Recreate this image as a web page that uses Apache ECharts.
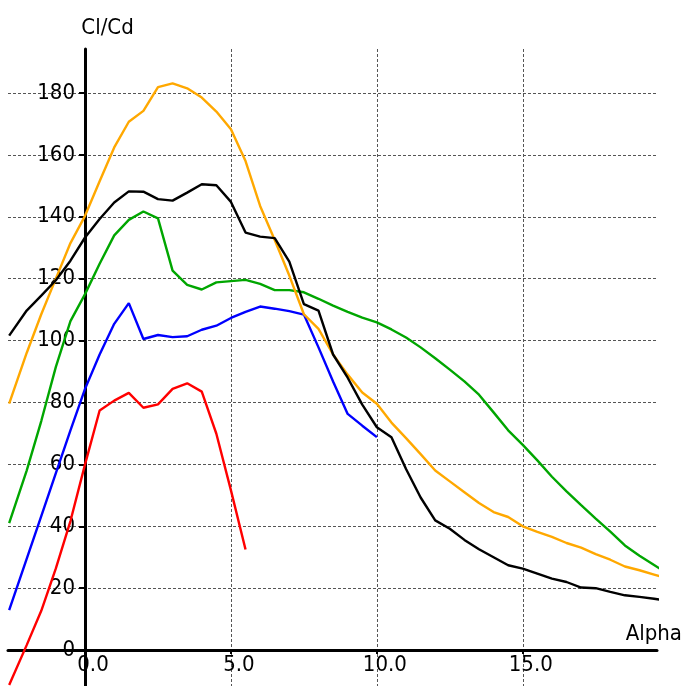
<!DOCTYPE html>
<html>
<head>
<meta charset="utf-8">
<script src="https://cdn.jsdelivr.net/npm/echarts@6/dist/echarts.min.js"></script>
<style>html,body{margin:0;padding:0;background:#fff}#c{width:684px;height:686px}</style>
</head>
<body>
<div id="c"></div>
<script>
const alpha = [-2.6, -2.0, -1.5, -1.0, -0.5, 0.0, 0.5, 1.0, 1.5, 2.0, 2.5, 3.0, 3.5, 4.0, 4.5, 5.0, 5.5, 6.0, 6.5, 7.0, 7.5, 8.0, 8.5, 9.0, 9.5, 10.0, 10.5, 11.0, 11.5, 12.0, 12.5, 13.0, 13.5, 14.0, 14.5, 15.0, 15.5, 16.0, 16.5, 17.0, 17.5, 18.0, 18.5, 19.0, 19.5, 20.0];

const blackVals = [101.6, 109.7, 114.5, 119.5, 125.8, 133.3, 139.3, 144.6, 148.2, 148.1, 145.7, 145.2, 147.8, 150.5, 150.2, 144.8, 134.9, 133.6, 133.1, 125.5, 111.8, 109.7, 95.5, 88.0, 79.3, 72.0, 68.8, 58.5, 49.3, 41.9, 39.2, 35.6, 32.6, 30.0, 27.4, 26.3, 24.7, 23.1, 22.0, 20.2, 20.0, 18.8, 17.7, 17.2, 16.6, 15.8];
const orangeVals = [79.6, 96.0, 108.5, 120.0, 131.5, 140.3, 151.5, 162.4, 170.7, 174.2, 181.9, 183.1, 181.5, 178.5, 174.0, 168.3, 158.0, 143.5, 132.5, 121.0, 108.5, 103.8, 95.5, 89.0, 83.2, 79.6, 73.5, 68.5, 63.3, 58.0, 54.5, 51.0, 47.5, 44.6, 43.0, 40.0, 38.2, 36.6, 34.6, 33.1, 31.0, 29.2, 27.0, 25.8, 24.4, 23.0];
const greenVals = [41.0, 58.0, 74.0, 91.5, 106.3, 115.0, 124.8, 134.0, 139.0, 141.7, 139.5, 122.6, 118.0, 116.5, 118.8, 119.2, 119.6, 118.3, 116.3, 116.3, 115.6, 113.5, 111.3, 109.3, 107.4, 105.9, 103.6, 101.0, 97.8, 94.3, 90.6, 86.8, 82.5, 76.8, 71.0, 66.3, 61.3, 56.0, 51.3, 46.8, 42.5, 38.3, 33.8, 30.5, 27.5, 24.5];
const blueVals = [12.9, 29.5, 43.3, 57.2, 71.0, 84.4, 95.5, 105.4, 112.1, 100.5, 101.8, 101.1, 101.4, 103.5, 104.8, 107.3, 109.3, 111.0, 110.3, 109.5, 108.4, 97.8, 86.8, 76.3, 72.5, 68.8];
const redVals = [-11.3, 1.6, 12.7, 26.4, 41.7, 60.0, 77.4, 80.6, 83.1, 78.3, 79.4, 84.4, 86.2, 83.5, 69.9, 51.6, 32.5];

const xTicks = [0, 5, 10, 15];
const yTicks = [0, 20, 40, 60, 80, 100, 120, 140, 160, 180];

const FONT = "'DejaVu Sans Condensed', 'DejaVu Sans', sans-serif";
const X_MIN = -2.64, X_MAX = 19.6, Y_MIN = -11.6, Y_MAX = 194.2;

function pairs(vals) { return vals.map((v, i) => [alpha[i], v]); }

const seriesDefs = [
  { name: 'red', color: '#ff0000', vals: redVals },
  { name: 'blue', color: '#0000ff', vals: blueVals },
  { name: 'green', color: '#00a600', vals: greenVals },
  { name: 'orange', color: '#ffa800', vals: orangeVals },
  { name: 'black', color: '#000000', vals: blackVals }
];

const gridLine = { show: true, lineStyle: { type: [3, 2], color: '#555', width: 1 } };

const chart = echarts.init(document.getElementById('c'), null, { renderer: 'canvas' });
chart.setOption({
  animation: false,
  backgroundColor: '#ffffff',
  grid: [
    { left: 8, right: 27, top: 49, bottom: 0, outerBoundsMode: 'none' },
    { left: 85, right: 27, top: 49, bottom: 36, outerBoundsMode: 'none' }
  ],
  xAxis: [{
    gridIndex: 0, type: 'value', min: X_MIN, max: X_MAX,
    axisLine: { onZero: true, lineStyle: { color: '#000', width: 3 } },
    axisTick: { show: true, customValues: xTicks, length: 4, lineStyle: { color: '#000', width: 2 } },
    axisLabel: { show: false },
    splitLine: Object.assign({ customValues: xTicks }, gridLine),
    name: 'Alpha', nameLocation: 'end', nameGap: 25,
    nameTextStyle: { fontFamily: FONT, fontSize: 22, color: '#000', align: 'right', verticalAlign: 'bottom', lineHeight: 22, padding: [0, 0, 5, 0] }
  }, {
    gridIndex: 1, type: 'value', min: 0, max: X_MAX,
    axisLine: { show: false }, axisTick: { show: false }, splitLine: { show: false },
    axisLabel: {
      customValues: xTicks, formatter: v => Number(v).toFixed(1),
      fontFamily: FONT, fontSize: 22, color: '#000', margin: 4, padding: [0, 0, 0, 16]
    }
  }],
  yAxis: [{
    gridIndex: 0, type: 'value', min: Y_MIN, max: Y_MAX,
    axisLine: { onZero: true, lineStyle: { color: '#000', width: 3 } },
    axisTick: { show: true, customValues: yTicks, length: 6, lineStyle: { color: '#000', width: 2 } },
    axisLabel: { show: false },
    splitLine: Object.assign({ customValues: yTicks }, gridLine),
    name: 'Cl/Cd', nameLocation: 'end', nameGap: 10,
    nameTextStyle: { fontFamily: FONT, fontSize: 22, color: '#000', align: 'center', verticalAlign: 'bottom', lineHeight: 22, padding: [0, 0, 0, 45] }
  }, {
    gridIndex: 1, type: 'value', min: 0, max: Y_MAX,
    axisLine: { show: false }, axisTick: { show: false }, splitLine: { show: false },
    axisLabel: { customValues: yTicks, fontFamily: FONT, fontSize: 22, color: '#000', margin: 10 }
  }],
  series: seriesDefs.map(s => ({
    type: 'line', name: s.name, xAxisIndex: 0, yAxisIndex: 0,
    data: pairs(s.vals), showSymbol: false, symbol: 'none',
    clip: false, lineStyle: { color: s.color, width: 2.4 }, itemStyle: { color: s.color }
  }))
});
</script>
</body>
</html>
